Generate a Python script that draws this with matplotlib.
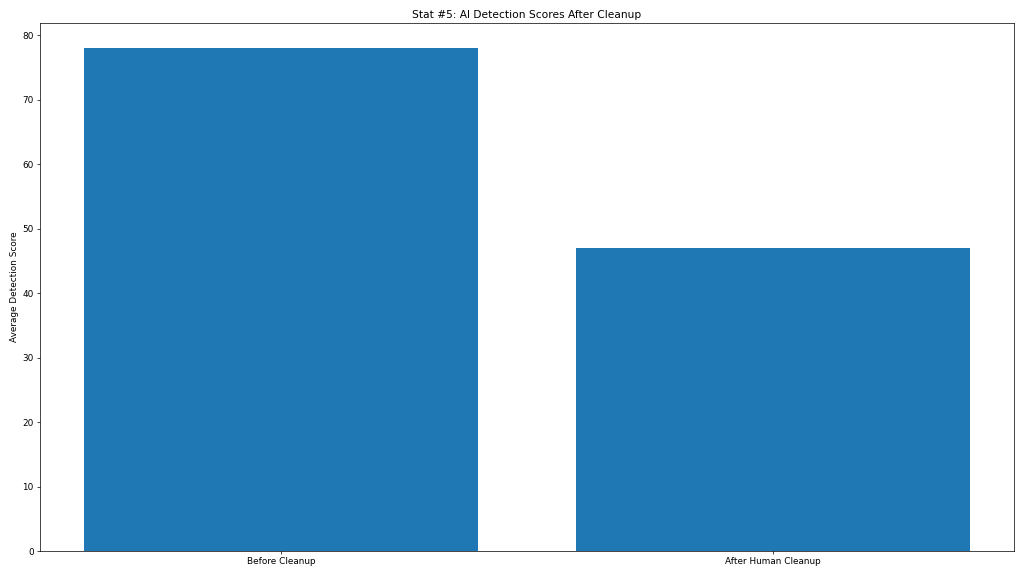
import matplotlib.pyplot as plt

categories = ['Before Cleanup', 'After Human Cleanup']
scores = [78, 47]

fig, ax = plt.subplots(figsize=(16, 9), dpi=64)
ax.bar(categories, scores, color='#1f77b4')
ax.set_ylabel('Average Detection Score')
ax.set_title('Stat #5: AI Detection Scores After Cleanup')
plt.tight_layout()
plt.savefig('out.png', dpi=64)
